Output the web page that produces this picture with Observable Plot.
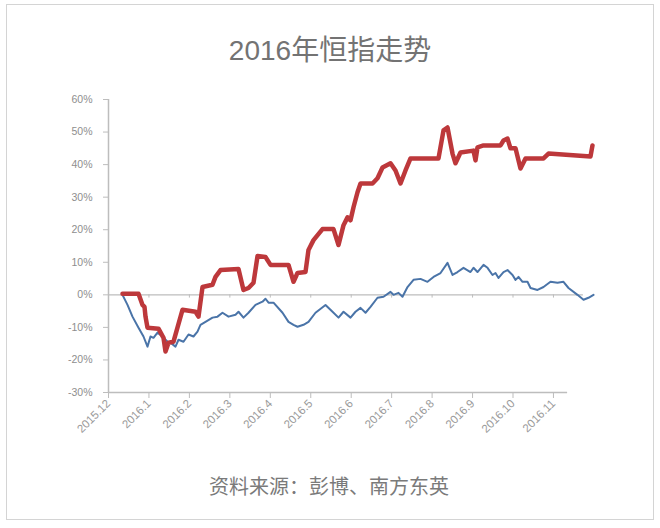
<!DOCTYPE html>
<html>
<head>
<meta charset="utf-8">
<script src="https://cdn.jsdelivr.net/npm/d3@7"></script>
<script src="https://cdn.jsdelivr.net/npm/@observablehq/plot@0.6"></script>
<style>
  html, body { margin: 0; padding: 0; background: #fff; }
  #wrap { position: relative; width: 660px; height: 528px; overflow: hidden; }
  #frame { position: absolute; left: 6px; top: 4px; width: 648px; height: 516px; border: 1.5px solid #d4d4d4; box-sizing: border-box; }
  #title { position: absolute; left: 0; width: 660px; top: 33px; text-align: center;
           font-family: "Liberation Sans", "Noto Sans CJK SC", sans-serif; font-size: 28px; color: #737373; line-height: 36px; }
  #caption { position: absolute; left: 0; width: 658px; top: 472px; text-align: center;
           font-family: "Noto Sans CJK SC", sans-serif; font-size: 20px; color: #7a7a7a; line-height: 28px; }
  #chart { position: absolute; left: 0; top: 0; }
</style>
</head>
<body>
<div id="wrap">
  <div id="frame"></div>
  <div id="chart"></div>
  <div id="title">2016年恒指走势</div>
  <div id="caption">资料来源：彭博、南方东英</div>
</div>
<script>
// Month position on the axis (0 = 2015.12, 1 = 2016.1, ...) and return in %
const monthLabels = ["2015.12","2016.1","2016.2","2016.3","2016.4","2016.5","2016.6","2016.7","2016.8","2016.9","2016.10","2016.11"];
const yTicks = [-30,-20,-10,0,10,20,30,40,50,60];

// Red series (thick)
const redX = [0.346,0.742,0.841,0.890,0.915,0.964,1.236,1.360,1.409,1.483,1.607,1.829,2.151,2.225,2.324,2.571,2.645,2.769,3.214,3.337,3.461,3.585,3.684,3.881,4.005,4.450,4.574,4.672,4.870,4.944,5.068,5.290,5.562,5.686,5.810,5.909,5.983,6.057,6.156,6.230,6.527,6.650,6.774,6.972,7.095,7.219,7.342,7.466,8.158,8.282,8.381,8.504,8.578,8.702,9.023,9.073,9.122,9.271,9.691,9.765,9.864,9.938,10.062,10.185,10.309,10.754,10.878,11.916,11.965];
const redY = [0.3,0.3,-3.1,-3.7,-6.7,-10.1,-10.4,-13.2,-17.4,-14.7,-14.4,-4.6,-5.2,-6.7,2.4,3.1,5.5,7.6,7.9,1.5,2.1,3.7,11.9,11.6,9.2,9.2,4.0,6.7,7.0,13.8,16.8,20.2,20.2,15.3,21.4,23.8,22.9,26.9,31.5,34.2,34.2,35.8,39.1,40.4,38.2,34.2,38.2,41.9,41.9,50.5,51.4,43.4,40.4,43.7,44.3,41.3,45.3,45.9,45.9,47.4,48.0,45.0,45.0,38.8,41.9,41.9,43.4,42.5,45.9];

// Blue series (thin)
const blueX = [0.346,0.470,0.593,0.742,0.865,0.964,1.038,1.112,1.211,1.335,1.459,1.533,1.656,1.731,1.854,1.978,2.101,2.200,2.274,2.398,2.571,2.695,2.818,2.967,3.140,3.214,3.337,3.461,3.634,3.807,3.881,3.956,4.079,4.302,4.450,4.574,4.672,4.821,4.944,5.117,5.365,5.538,5.686,5.810,5.983,6.106,6.230,6.354,6.477,6.650,6.799,6.972,7.046,7.169,7.268,7.392,7.540,7.713,7.886,8.035,8.208,8.381,8.504,8.628,8.776,8.949,9.023,9.122,9.271,9.370,9.493,9.567,9.642,9.765,9.864,9.988,10.062,10.136,10.235,10.358,10.433,10.606,10.754,10.927,11.100,11.248,11.372,11.594,11.743,11.866,11.990];
const blueY = [0,-3.1,-6.7,-10.1,-12.8,-15.9,-12.8,-13.2,-11.6,-12.8,-14.4,-14.7,-15.9,-13.8,-14.4,-12.2,-12.8,-11.3,-9.2,-8.3,-7.0,-6.7,-5.5,-6.7,-6.1,-5.2,-7.0,-5.5,-3.1,-2.1,-1.2,-2.4,-2.4,-5.5,-8.3,-9.2,-9.8,-9.2,-8.3,-5.5,-3.1,-5.2,-7.0,-5.2,-7.0,-5.2,-4.0,-5.5,-3.7,-0.9,-0.6,0.9,0,0.6,-0.6,2.4,4.6,4.9,4.0,5.5,6.7,9.8,6.1,7.0,8.3,7.0,8.3,7.0,9.2,8.3,6.1,6.7,5.2,7.0,7.6,6.1,4.6,5.5,4.0,4.0,2.1,1.5,2.4,4.0,3.7,4.0,2.1,0,-1.5,-0.9,0];

const axisEnd = 11.35;   // end of the drawn bottom axis line
const zeroEnd = 11.74;   // end of the 0% reference line

const red = redX.map((x, i) => ({x, y: redY[i]}));
const blue = blueX.map((x, i) => ({x, y: blueY[i]}));
const months = monthLabels.map((_, i) => i);

const axisColor = "#bdbdbd";
const textColor = "#8e8e8e";

const chart = Plot.plot({
  width: 660,
  height: 528,
  marginLeft: 108,
  marginRight: 58.5,
  marginTop: 99,
  marginBottom: 136,
  style: {fontFamily: "'Liberation Sans', Arial, sans-serif", fontSize: "10.5px", color: textColor, background: "transparent"},
  x: {domain: [0, 12.2]},
  y: {domain: [-30, 60]},
  marks: [
    // zero reference line with small month ticks
    Plot.ruleY([0], {x1: 0, x2: zeroEnd, stroke: axisColor, strokeWidth: 1.2}),
    Plot.ruleX(months.slice(1), {x: d => d, y1: 0, y2: -1, stroke: axisColor, strokeWidth: 1}),
    // axis lines
    Plot.ruleX([0], {y1: -30, y2: 60, stroke: axisColor, strokeWidth: 1.5}),
    Plot.ruleY([-30], {x1: 0, x2: axisEnd, stroke: axisColor, strokeWidth: 1.5}),
    Plot.axisY({ticks: yTicks, tickFormat: d => d + "%", tickSize: 5, tickPadding: 11, stroke: axisColor, color: textColor, label: null}),
    Plot.axisX({ticks: months, tickFormat: i => monthLabels[i], tickSize: 6, tickPadding: 3, tickRotate: -45, fontSize: 11.5, stroke: axisColor, color: "#9a9a9a", label: null}),
    // series
    Plot.line(blue, {x: "x", y: "y", stroke: "#4a74a8", strokeWidth: 2, strokeLinejoin: "round"}),
    Plot.line(red, {x: "x", y: "y", stroke: "#bd383b", strokeWidth: 4.5, strokeLinejoin: "round", strokeLinecap: "round"})
  ]
});
document.getElementById("chart").appendChild(chart);
</script>
</body>
</html>
